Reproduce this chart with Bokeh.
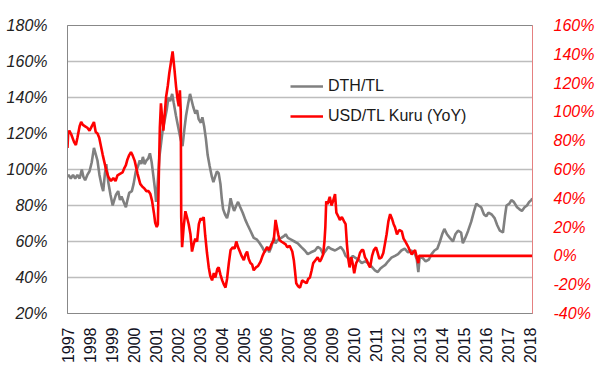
import math
from bokeh.plotting import figure
from bokeh.models import (Range1d, LinearAxis, FixedTicker, PrintfTickFormatter,
                          Legend, LegendItem)
from bokeh.embed import file_html
from bokeh.resources import INLINE

# ---------------- data ----------------
dth_years = [1997.00, 1997.05, 1997.15, 1997.25, 1997.35, 1997.45, 1997.55, 1997.65, 1997.72, 1997.80,
             1997.90, 1998.00, 1998.10, 1998.20, 1998.27, 1998.36, 1998.45, 1998.55, 1998.62, 1998.70,
             1998.76, 1998.85, 1998.95, 1999.05, 1999.12, 1999.20, 1999.30, 1999.38, 1999.45, 1999.55,
             1999.65, 1999.72, 1999.80, 1999.92, 2000.00, 2000.10, 2000.18, 2000.28, 2000.35, 2000.42,
             2000.50, 2000.58, 2000.66, 2000.74, 2000.82, 2000.90, 2000.98, 2001.02, 2001.08, 2001.17,
             2001.25, 2001.32, 2001.42, 2001.50, 2001.58, 2001.66, 2001.75, 2001.82, 2001.92, 2002.00,
             2002.08, 2002.15, 2002.22, 2002.30, 2002.38, 2002.48, 2002.56, 2002.62, 2002.70, 2002.80,
             2002.88, 2002.95, 2003.05, 2003.12, 2003.20, 2003.28, 2003.36, 2003.45, 2003.55, 2003.62,
             2003.70, 2003.78, 2003.86, 2003.94, 2004.00, 2004.06, 2004.15, 2004.24, 2004.32, 2004.40,
             2004.48, 2004.56, 2004.66, 2004.74, 2004.84, 2004.95, 2005.07, 2005.18, 2005.30, 2005.45,
             2005.60, 2005.72, 2005.83, 2005.95, 2006.06, 2006.15, 2006.25, 2006.36, 2006.44, 2006.55,
             2006.70, 2006.82, 2006.90, 2007.00, 2007.15, 2007.30, 2007.45, 2007.60, 2007.77, 2007.90,
             2008.05, 2008.23, 2008.35, 2008.48, 2008.60, 2008.72, 2008.83, 2008.95, 2009.14, 2009.28,
             2009.40, 2009.52, 2009.62, 2009.80, 2009.95, 2010.05, 2010.20, 2010.35, 2010.50, 2010.65,
             2010.80, 2010.95, 2011.08, 2011.20, 2011.30, 2011.42, 2011.55, 2011.70, 2011.86, 2012.00,
             2012.15, 2012.30, 2012.45, 2012.60, 2012.77, 2012.85, 2012.92, 2012.98, 2013.10, 2013.25,
             2013.40, 2013.52, 2013.65, 2013.78, 2013.90, 2014.00, 2014.10, 2014.22, 2014.35, 2014.49,
             2014.60, 2014.72, 2014.86, 2014.94, 2015.05, 2015.18, 2015.32, 2015.45, 2015.55, 2015.65,
             2015.77, 2015.90, 2016.00, 2016.10, 2016.25, 2016.38, 2016.50, 2016.62, 2016.76, 2016.85,
             2016.92, 2017.05, 2017.14, 2017.25, 2017.40, 2017.50, 2017.62, 2017.74, 2017.85, 2017.95,
             2018.05, 2018.09]
dth_values = [96, 97, 95, 97, 95, 97, 95, 100, 96, 94,
              97, 99, 104, 112, 109, 105, 97, 91, 88, 98,
              103, 93, 86, 80, 83, 86, 88, 83, 85, 82,
              79, 83, 87, 88, 92, 99, 101, 105, 103, 107,
              103, 105, 106, 109, 104, 96, 88, 82, 90, 107,
              115, 122, 128, 133, 140, 138, 142, 137, 130, 125,
              120, 116, 113, 122, 130, 137, 142, 139, 135, 131,
              133, 128, 126, 129, 124, 117, 108, 102, 96, 93,
              96, 99, 98, 92, 84, 78, 75, 73, 77, 84,
              80, 77, 80, 82, 79, 76, 72, 69, 66, 62,
              61, 59, 57, 54, 57, 54, 57, 62, 59, 61,
              62, 63, 64, 62, 61, 60, 59, 57, 55, 53,
              54, 55, 57, 56, 53, 55, 57, 56, 55, 56,
              57, 55, 52, 50, 52, 51, 50, 48, 49, 48,
              46, 44, 43, 45, 46, 47, 49, 51, 52, 53,
              55, 56, 54, 55, 53, 50, 43, 51, 51, 49,
              50, 53, 55, 56, 60, 64, 67, 64, 62, 60,
              64, 66, 65, 59, 62, 66, 71, 77, 81, 80,
              79, 75, 74, 76, 75, 73, 69, 66, 65, 74,
              80, 81, 83, 82, 79, 78, 77, 79, 80, 82,
              83, 84]

usd_years = [1997.00, 1997.03, 1997.08, 1997.18, 1997.30, 1997.38, 1997.45, 1997.55, 1997.62, 1997.70,
             1997.80, 1997.90, 1998.00, 1998.10, 1998.20, 1998.28, 1998.36, 1998.44, 1998.52, 1998.60,
             1998.66, 1998.75, 1998.85, 1998.97, 1999.08, 1999.18, 1999.27, 1999.38, 1999.50, 1999.58,
             1999.65, 1999.72, 1999.80, 1999.88, 1999.95, 2000.05, 2000.18, 2000.30, 2000.40, 2000.48,
             2000.58, 2000.68, 2000.76, 2000.84, 2000.92, 2000.98, 2001.05, 2001.10, 2001.15, 2001.19,
             2001.24, 2001.30, 2001.35, 2001.42, 2001.47, 2001.55, 2001.62, 2001.70, 2001.77, 2001.85,
             2001.93, 2002.00, 2002.05, 2002.10, 2002.14, 2002.16, 2002.20, 2002.27, 2002.35, 2002.42,
             2002.50, 2002.58, 2002.65, 2002.72, 2002.80, 2002.88, 2002.96, 2003.04, 2003.12, 2003.18,
             2003.25, 2003.33, 2003.41, 2003.48, 2003.56, 2003.64, 2003.71, 2003.80, 2003.86, 2003.94,
             2004.02, 2004.10, 2004.17, 2004.24, 2004.32, 2004.40, 2004.50, 2004.58, 2004.66, 2004.74,
             2004.82, 2004.90, 2005.00, 2005.08, 2005.15, 2005.22, 2005.30, 2005.38, 2005.45, 2005.55,
             2005.65, 2005.76, 2005.85, 2005.94, 2006.06, 2006.15, 2006.25, 2006.36, 2006.40, 2006.44,
             2006.50, 2006.56, 2006.62, 2006.70, 2006.80, 2006.90, 2006.97, 2007.08, 2007.20, 2007.27,
             2007.32, 2007.38, 2007.46, 2007.55, 2007.65, 2007.75, 2007.85, 2007.92, 2008.00, 2008.08,
             2008.15, 2008.25, 2008.35, 2008.45, 2008.52, 2008.60, 2008.66, 2008.70, 2008.74, 2008.80,
             2008.90, 2008.98, 2009.05, 2009.14, 2009.20, 2009.30, 2009.36, 2009.45, 2009.55, 2009.62,
             2009.68, 2009.74, 2009.80, 2009.88, 2009.95, 2010.01, 2010.10, 2010.20, 2010.27, 2010.35,
             2010.42, 2010.50, 2010.58, 2010.66, 2010.73, 2010.82, 2010.90, 2011.00, 2011.06, 2011.15,
             2011.25, 2011.33, 2011.40, 2011.48, 2011.56, 2011.64, 2011.72, 2011.80, 2011.86, 2011.95,
             2012.05, 2012.17, 2012.25, 2012.33, 2012.40, 2012.47, 2012.55, 2012.62, 2012.70, 2012.77,
             2012.85, 2012.92, 2012.95, 2018.09]
usd_values = [75, 85, 87, 84, 79, 77, 82, 90, 93, 91,
              90, 89, 87, 90, 93, 86, 85, 82, 76, 70,
              66, 60, 55, 52, 54, 52, 56, 57, 58, 61,
              63, 67, 70, 72, 70, 66, 57, 50, 48, 47,
              45, 45, 43, 38, 30, 23, 20, 22, 60, 89,
              106, 95, 87, 100, 110, 118, 127, 135, 142, 130,
              117, 108, 104, 115, 100, 27, 6, 20, 31, 27,
              22, 15, 3, 8, 12, 10, 22, 26, 25, 27,
              14, 2, -8, -14, -17, -12, -15, -9, -8, -13,
              -17, -20, -22, -16, -5, 4, 6, 5, 10, 6,
              3, 0, -3, 1, 3, -2, -5, -6, -10, -8,
              -7, -4, 0, 3, 6, 4, 8, 11, 18, 25,
              20, 15, 11, 10, 9, 8, 6, 7, 3, -3,
              -10, -19, -21, -22, -17, -18, -19, -16, -15, -10,
              -5, -3, -1, -4, -2, 1, 10, 20, 38, 36,
              41, 35, 38, 43, 30, 27, 25, 27, 24, 22,
              8, -2, -8, -1, -6, -12, -5, -2, 2, 4,
              4, -1, -3, -6, -8, 0, 4, 6, 3, -2,
              -1, 2, 8, 15, 24, 29, 26, 22, 20, 15,
              18, 17, 12, 10, 8, 6, 3, 1, 3, 4,
              -1, -5, 0, 0]

year_ticks = list(range(1997, 2019))
left_ticks = [20, 40, 60, 80, 100, 120, 140, 160, 180]
right_ticks = [-40, -20, 0, 20, 40, 60, 80, 100, 120, 140, 160]

GRAY = "#808080"
RED = "#ff0000"
FONT = "Liberation Sans"

p = figure(width=598, height=369, output_backend="svg", toolbar_location=None,
           x_range=Range1d(1997, 2018.1), y_range=Range1d(20, 180),
           min_border_left=67, min_border_right=66, min_border_top=25, min_border_bottom=56)
p.extra_y_ranges = {"right": Range1d(-40, 160)}

p.outline_line_color = "#888888"
p.outline_line_width = 1
p.background_fill_color = "white"
p.border_fill_color = "white"

p.xgrid.grid_line_color = None
p.ygrid.grid_line_color = "#bdbdbd"
p.ygrid.grid_line_width = 1.5

# x axis
xa = p.xaxis[0]
xa.ticker = FixedTicker(ticks=year_ticks)
xa.major_label_orientation = math.pi / 2
xa.major_label_text_font = FONT
xa.major_label_text_font_size = "16px"
xa.major_label_text_color = "#111122"
xa.major_label_standoff = 8
xa.major_tick_line_color = None
xa.minor_tick_line_color = None
xa.axis_line_color = "#888888"

# left axis
ya = p.yaxis[0]
ya.ticker = FixedTicker(ticks=left_ticks)
ya.formatter = PrintfTickFormatter(format="%d%%")
ya.major_label_text_font = FONT
ya.major_label_text_font_style = "italic"
ya.major_label_text_font_size = "16px"
ya.major_label_text_color = "#222222"
ya.major_label_standoff = 14
ya.major_tick_line_color = None
ya.minor_tick_line_color = None
ya.axis_line_color = "#888888"

# right axis
ra = LinearAxis(y_range_name="right")
ra.ticker = FixedTicker(ticks=right_ticks)
ra.formatter = PrintfTickFormatter(format="%d%%")
ra.major_label_text_font = FONT
ra.major_label_text_font_style = "italic"
ra.major_label_text_font_size = "16px"
ra.major_label_text_color = RED
ra.major_label_standoff = 15
ra.major_tick_line_color = None
ra.minor_tick_line_color = None
ra.axis_line_color = "#e58080"
p.add_layout(ra, "right")

g = p.line(dth_years, dth_values, line_color=GRAY, line_width=2.6)
r = p.line(usd_years, usd_values, line_color=RED, line_width=2.6, y_range_name="right")

legend = Legend(items=[LegendItem(label="DTH/TL", renderers=[g]),
                       LegendItem(label="USD/TL Kuru (YoY)", renderers=[r])],
                location=(223, 187), glyph_width=33, glyph_height=20, spacing=10,
                label_standoff=5, padding=0, margin=0,
                label_text_font=FONT, label_text_font_size="16px", label_text_color="#1a1a1a",
                background_fill_alpha=0, border_line_alpha=0)
p.add_layout(legend)

open("out.html", "w").write(file_html(p, INLINE))
